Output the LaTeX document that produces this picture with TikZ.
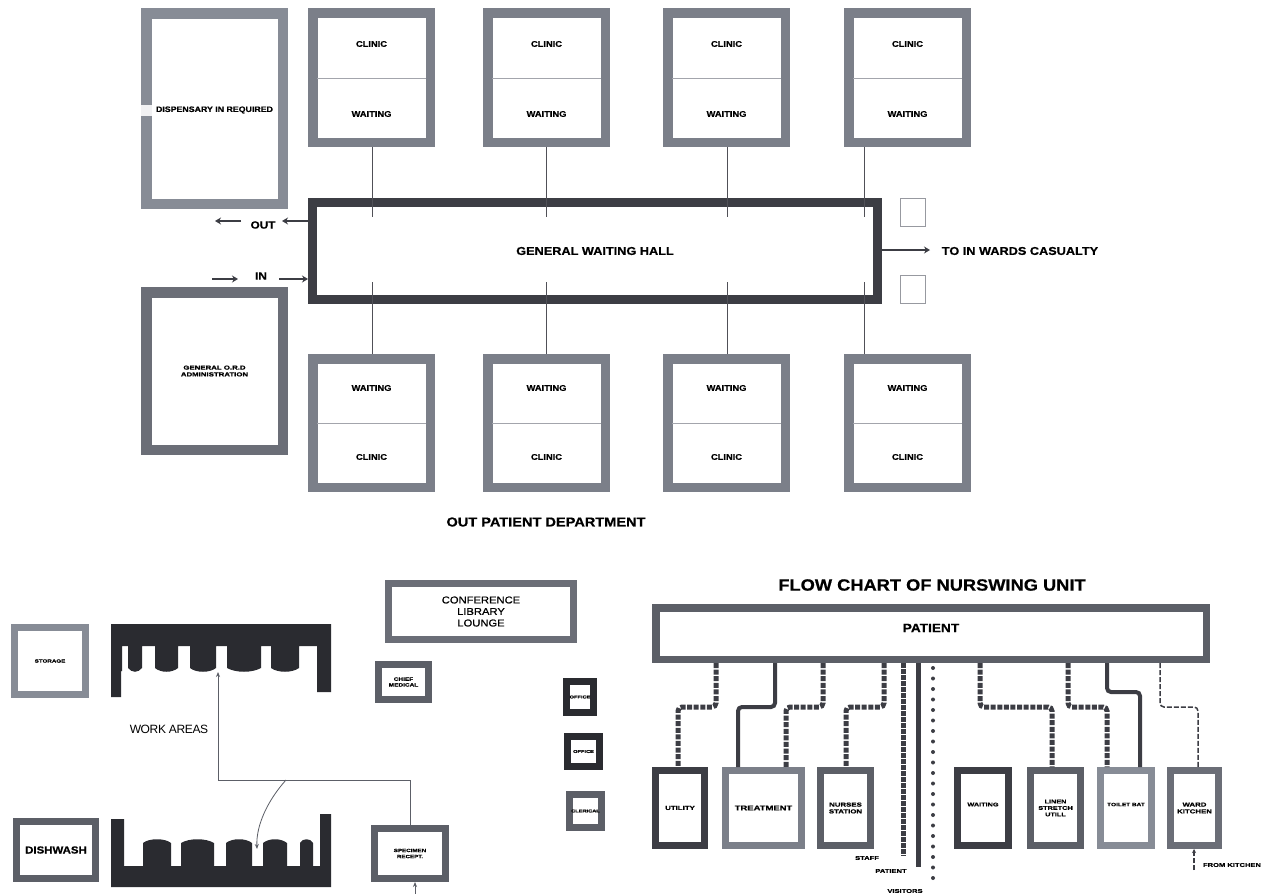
\documentclass[tikz,border=0pt]{standalone}
\usepackage{fontspec}
\setmainfont{Liberation Sans}
\newfontfamily\lab[FakeStretch=1.35,FakeBold=0.6]{Liberation Sans}
\newfontfamily\wide[FakeStretch=1.12,FakeBold=0.6]{Liberation Sans}
\usetikzlibrary{arrows.meta}
\definecolor{cA}{HTML}{878C96}
\definecolor{cB}{HTML}{7B7F89}
\definecolor{cC}{HTML}{6B6E77}
\definecolor{cD}{HTML}{5C5F67}
\definecolor{cE}{HTML}{3C3D44}
\definecolor{cF}{HTML}{2A2B30}
\newcommand{\fs}[1]{\fontsize{#1}{#1}\selectfont}
% \bx{name}{x0}{y0}{x1}{y1}{colour}{line width}{font size}{text}
\newcommand{\bx}[9]{%
  \pgfmathsetmacro{\bxw}{#4-#2-#7}\pgfmathsetmacro{\bxh}{#5-#3-#7}%
  \node[roombox,draw=#6,line width=#7pt,minimum width=\bxw pt,minimum height=\bxh pt,
    font=\bfseries\wide\fs{#8}] (#1) at ({(#2+#4)/2},{(#3+#5)/2}) {#9};}
\newcommand{\sx}[9]{%
  \pgfmathsetmacro{\bxw}{#4-#2-#7}\pgfmathsetmacro{\bxh}{#5-#3-#7}%
  \node[roombox,draw=#6,line width=#7pt,minimum width=\bxw pt,minimum height=\bxh pt,
    font=\bfseries\lab\fs{#8}] (#1) at ({(#2+#4)/2},{(#3+#5)/2}) {#9};}
% \cn{style}{from x}{mid y}{to x}{target}
\newcommand{\cn}[5]{%
  \coordinate (ca) at (#2,#3);\coordinate (cb) at (#4,#3);%
  \draw[#1] (patient.south -| ca) -- (ca) -- (cb) -- (#5.north -| cb);}
\tikzset{
  roombox/.style={rectangle,inner sep=0pt,align=center,text=black,fill=white},
  tag/.style={inner sep=0pt,align=center,text=black,font=\bfseries\wide\fs{#1}},
  tag/.default=8.3,
  smalltag/.style={inner sep=0pt,align=center,text=black,font=\bfseries\lab\fs{5.6}},
  link/.style={draw=cE!90!white,line width=0.9pt},
  thickdash/.style={draw=cE,line width=5pt,dash pattern=on 5pt off 1.6pt,rounded corners=4pt},
  thicksolid/.style={draw=cE,line width=4pt,rounded corners=4pt},
  thindash/.style={draw=cE,line width=1.5pt,dash pattern=on 5pt off 2pt,rounded corners=4pt},
  flowarrow/.style={draw=cE,line width=2pt,-{Stealth[length=6pt,width=7pt]}},
  finearrow/.style={draw=cD,line width=0.8pt,-{Stealth[length=5pt,width=4pt]}},
  solidshape/.style={fill=cF,draw=none}
}
\begin{document}
\begin{tikzpicture}[x=1pt,y=-1pt]
\useasboundingbox (0,0) rectangle (1262,894);
\fill[white] (0,0) rectangle (1262,894);

% --- Out patient department
\bx{disp}{141}{8}{288}{209}{cA}{10.5}{7.8}{}
\fill[white!88!cA] (141,105) rectangle (152,116);
\node[tag=7.85] (dispt) at (214.5,110) {DISPENSARY IN REQUIRED};
\sx{admin}{141}{287}{288}{455}{cC}{10.5}{5.8}{\raisebox{0pt}{GENERAL O.R.D}\\[1pt]ADMINISTRATION}

\bx{hall}{308}{198}{882}{304}{cE}{9}{11.35}{GENERAL WAITING HALL}

\foreach \n/\a/\b/\lx in {1/308/435/372,2/483/610/546,3/663/790/727,4/844/971/864}{
  \bx{top\n}{\a}{8}{\b}{147}{cB}{9.5}{9}{}
  \bx{bot\n}{\a}{354}{\b}{492}{cB}{9.5}{9}{}
  \pgfmathsetmacro{\cx}{(\a+\b)/2}
  \draw[draw=cB!70!white,line width=0.8pt] (\a+9,78) -- (\b-9,78);
  \draw[draw=cB!70!white,line width=0.8pt] (\a+9,423) -- (\b-9,423);
  \node[tag] (tc\n) at (\cx,44) {CLINIC};
  \node[tag] (tw\n) at (\cx,114) {WAITING};
  \node[tag] (bw\n) at (\cx,388) {WAITING};
  \node[tag] (bc\n) at (\cx,457) {CLINIC};
  \coordinate (la\n) at (\lx,217);
  \coordinate (lb\n) at (\lx,282);
  \draw[link] (top\n.south -| la\n) -- (la\n);
  \draw[link] (bot\n.north -| lb\n) -- (lb\n);
}

\node[draw=cC!70!white,line width=0.8pt,fill=white,minimum width=25pt,minimum height=28pt,inner sep=0pt] (sq1) at (913,212.5) {};
\node[draw=cC!70!white,line width=0.8pt,fill=white,minimum width=25pt,minimum height=28pt,inner sep=0pt] (sq2) at (913,289.5) {};

\node[tag=10.5] (out) at (263,225) {OUT};
\node[tag=10.5] (inn) at (261,276) {IN};
\coordinate (oute) at (215,221);
\coordinate (ine) at (212,279);
\coordinate (oute2) at (241,221);
\coordinate (ine2) at (238,279);
\coordinate (oute3) at (282,221);
\coordinate (ine3) at (279,279);
\draw[flowarrow] (hall.west |- oute3) -- (oute3);
\draw[flowarrow] (oute2) -- (oute);
\draw[flowarrow] (ine) -- (ine2);
\draw[flowarrow] (ine3) -- (hall.west |- ine3);
\node[tag=11.35] (wards) at (1020,251) {TO IN WARDS CASUALTY};
\coordinate (we) at (930,250);
\draw[flowarrow] (hall.east |- we) -- (we);
\node[tag=13] (opd) at (546,522) {OUT PATIENT DEPARTMENT};

% --- Work areas
\sx{storage}{11}{624}{89}{698}{cA}{7}{4.6}{STORAGE}
\bx{dish}{13}{818}{99}{882}{cD}{7}{10.2}{DISHWASH}
\fill[solidshape] (111,624) -- (331,624) -- (331,692) -- (317,692) -- (317,646) -- (299,646) -- (299,668)
  .. controls (292,673) and (278,673) .. (271,668) -- (271,646) -- (261,646) -- (261,668)
  .. controls (252,673) and (236,673) .. (227,668) -- (227,646) -- (216,646) -- (216,668)
  .. controls (210,673) and (196,673) .. (190,668) -- (190,646) -- (178,646) -- (178,668)
  .. controls (172,673) and (161,673) .. (155,668) -- (155,646) -- (142,646) -- (142,668)
  .. controls (138,673) and (132,673) .. (128,668) -- (128,646) -- (122,646) -- (122,671) -- (121,671) -- (121,697) -- (111,697) -- cycle;
\fill[solidshape] (111,887) -- (331,887) -- (331,814) -- (320,814) -- (320,866) -- (313,866) -- (313,843)
  .. controls (311,838) and (302,838) .. (300,843) -- (300,866) -- (287,866) -- (287,843)
  .. controls (281,838) and (269,838) .. (263,843) -- (263,866) -- (252,866) -- (252,843)
  .. controls (246,838) and (232,838) .. (226,843) -- (226,866) -- (214,866) -- (214,843)
  .. controls (206,838) and (189,838) .. (181,843) -- (181,866) -- (171,866) -- (171,843)
  .. controls (165,838) and (149,838) .. (143,843) -- (143,866) -- (124,866) -- (124,819) -- (111,819) -- cycle;
\node[inner sep=0pt,font=\fs{12}\addfontfeatures{LetterSpace=-3}] (work) at (169,729) {WORK AREAS};
\sx{spec}{371}{825}{449}{882}{cD}{7}{4.6}{SPECIMEN\\[1.5pt]RECEPT.}
\coordinate (ra) at (410,780);
\coordinate (rb) at (218,780);
\coordinate (rc) at (218,672);
\coordinate (rd) at (286,780);
\coordinate (re) at (257,849);
\coordinate (rf) at (415,894);
\draw[finearrow] (spec.north -| ra) -- (ra) -- (rb) -- (rc);
\draw[finearrow] (rd) .. controls (268,800) and (256,825) .. (re);
\draw[finearrow] (rf) -- (spec.south -| rf);

\bx{conf}{385}{580}{577}{643}{cC}{7}{10}{\mdseries\wide CONFERENCE\\[1.5pt]\mdseries\wide LIBRARY\\[1.5pt]\mdseries\wide LOUNGE}
\sx{chief}{375}{661}{432}{703}{cD}{7}{4.8}{CHIEF\\[1pt]MEDICAL}
\sx{off1}{563}{678}{597}{716}{cF}{7}{4.2}{OFFICE}
\sx{off2}{564}{733}{603}{770}{cF}{7}{4.2}{OFFICE}
\sx{clerk}{566}{791}{605}{831}{cD}{7}{4.2}{CLERICAL}

% --- Nursing unit
\node[tag=16.3] (title) at (932,585) {FLOW CHART OF NURSWING UNIT};
\bx{patient}{652}{604}{1210}{663}{cD}{7.5}{12.2}{\raisebox{11pt}{PATIENT}}
\sx{utility}{652}{767}{708}{849}{cE}{7}{5.8}{UTILITY}
\sx{treat}{722}{767}{805}{849}{cB}{7}{7}{TREATMENT}
\sx{nurse}{817}{767}{874}{849}{cD}{7}{5.8}{NURSES\\[1pt]STATION}
\sx{waiting}{954}{767}{1012}{849}{cE}{7}{5.4}{\raisebox{7pt}{WAITING}}
\sx{linen}{1027}{767}{1084}{849}{cD}{7}{5.4}{LINEN\\[1pt]STRETCH\\[1pt]UTILL}
\sx{toilet}{1097}{767}{1155}{849}{cA}{7}{4.8}{\raisebox{7pt}{TOILET BAT}}
\sx{kitchen}{1167}{767}{1222}{849}{cC}{7}{5.8}{WARD\\[1pt]KITCHEN}

\cn{thickdash}{716}{707}{678}{utility}
\cn{thicksolid}{775}{707}{738}{treat}
\cn{thickdash}{823}{707}{786}{treat}
\cn{thickdash}{884}{707}{846}{nurse}
\cn{thickdash}{980}{707}{1052}{linen}
\cn{thickdash}{1068}{707}{1107}{toilet}
\cn{thicksolid}{1107}{692}{1140}{toilet}
\cn{thindash}{1160}{707}{1198}{kitchen}

\coordinate (stf) at (903,856);
\coordinate (pat) at (918,867);
\coordinate (vis) at (933,668);
\coordinate (vie) at (933,888);
\coordinate (fk) at (1194,870);
\draw[draw=cE,line width=5pt,dash pattern=on 4.5pt off 1.5pt] (patient.south -| stf) -- (stf);
\draw[draw=cE,line width=5pt] (patient.south -| pat) -- (pat);
\draw[draw=cE,line width=4pt,line cap=round,dash pattern=on 0pt off 10.5pt] (vis) -- (vie);
\draw[draw=cE,line width=1.3pt,dash pattern=on 5pt off 2pt,-{Stealth[length=4pt,width=4pt]}] (fk) -- (kitchen.south -| fk);

\node[smalltag] (lstaff) at (867,858) {STAFF};
\node[smalltag] (lpat) at (891,871) {PATIENT};
\node[smalltag] (lvis) at (905,891) {VISITORS};
\node[smalltag] (lfk) at (1232,865) {FROM KITCHEN};
\end{tikzpicture}
\end{document}
